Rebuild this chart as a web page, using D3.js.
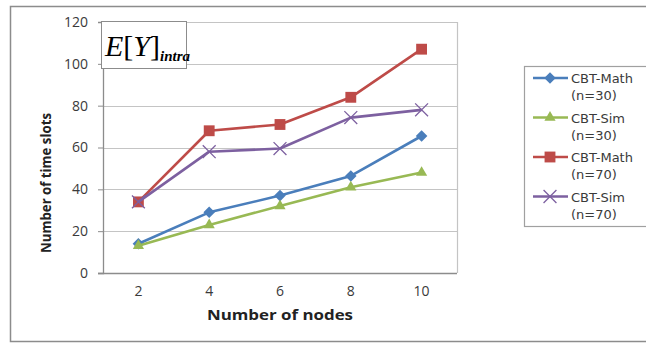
<!DOCTYPE html>
<html>
<head>
<meta charset="utf-8">
<script src="https://cdn.jsdelivr.net/npm/d3@7"></script>
<style>
  body { margin: 0; background: #fff; }
  text { font-family: "Open Sans", "DejaVu Sans", sans-serif; }
</style>
</head>
<body>
<script>
// values
var nodes = ["2", "4", "6", "8", "10"];
var mathN30 = [14, 29, 37, 46.4, 65.5];
var simN30 = [13, 23, 32, 41, 48];
var mathN70 = [34, 68, 71, 84, 107];
var simN70 = [34, 58, 59.5, 74.3, 78];
var yTicks = [0, 20, 40, 60, 80, 100, 120];

var series = [
  {name: "CBT-Math", sub: "(n=30)", values: mathN30, color: "#4a7ebb", shape: "diamond"},
  {name: "CBT-Sim", sub: "(n=30)", values: simN30, color: "#98b954", shape: "triangle"},
  {name: "CBT-Math", sub: "(n=70)", values: mathN70, color: "#be4b48", shape: "square"},
  {name: "CBT-Sim", sub: "(n=70)", values: simN70, color: "#7d60a0", shape: "cross"}
];

var svg = d3.select("body").append("svg")
  .attr("width", 646)
  .attr("height", 343);

// outer frame
svg.append("rect")
  .attr("x", 10.5).attr("y", 6.5)
  .attr("width", 660).attr("height", 335)
  .attr("fill", "none").attr("stroke", "#8c8c8c").attr("stroke-width", 1.5);

var plot = {left: 103, top: 22, right: 457, bottom: 273};

var x = d3.scaleBand()
  .domain(nodes)
  .range([plot.left, plot.right]);

var y = d3.scaleLinear()
  .domain([0, 120])
  .range([plot.bottom, plot.top]);

// grid
svg.append("g").selectAll("line")
  .data(yTicks.filter(d => d > 0))
  .enter().append("line")
  .attr("x1", plot.left).attr("x2", plot.right)
  .attr("y1", d => Math.round(y(d)) + 0.5).attr("y2", d => Math.round(y(d)) + 0.5)
  .attr("stroke", "#c4c4c4").attr("stroke-width", 1.2);

// right border of plot
svg.append("line")
  .attr("x1", plot.right + 0.5).attr("x2", plot.right + 0.5)
  .attr("y1", Math.round(y(120))).attr("y2", plot.bottom)
  .attr("stroke", "#c4c4c4").attr("stroke-width", 1.2);

// y axis
var yAxis = svg.append("g")
  .attr("transform", "translate(" + plot.left + ",0)")
  .call(d3.axisLeft(y).tickValues(yTicks).tickSize(5).tickPadding(10));
yAxis.select(".domain").attr("stroke", "#8c8c8c").attr("stroke-width", 1.3);
yAxis.selectAll(".tick line").attr("stroke", "#8c8c8c");
yAxis.selectAll("text").attr("font-size", 14).attr("fill", "#3a3a3a");

// x axis
var xAxis = svg.append("g")
  .attr("transform", "translate(0," + plot.bottom + ")")
  .call(d3.axisBottom(x).tickSize(0).tickPadding(13).tickSizeOuter(0));
xAxis.select(".domain").attr("stroke", "#8c8c8c").attr("stroke-width", 1.3)
  .attr("d", "M" + (plot.left - 5) + ",0.5H" + plot.right);
xAxis.selectAll("text").attr("font-size", 14).attr("fill", "#3a3a3a");

// axis titles
svg.append("text")
  .attr("x", 280).attr("y", 320)
  .attr("text-anchor", "middle")
  .attr("font-size", 15).attr("font-weight", "bold").attr("fill", "#222")
  .attr("textLength", 146).attr("lengthAdjust", "spacingAndGlyphs")
  .text("Number of nodes");

svg.append("text")
  .attr("transform", "translate(51,183) rotate(-90)")
  .attr("text-anchor", "middle")
  .attr("font-size", 15).attr("font-weight", "bold").attr("fill", "#222")
  .attr("textLength", 140).attr("lengthAdjust", "spacingAndGlyphs")
  .text("Number of time slots");

// lines and markers
var line = d3.line()
  .x((d, i) => x(nodes[i]) + x.bandwidth() / 2)
  .y(d => y(d));

function marker(g, shape, color) {
  if (shape === "diamond") {
    g.append("path").attr("d", d3.symbol(d3.symbolDiamond2, 85)()).attr("fill", color);
  } else if (shape === "triangle") {
    g.append("path").attr("d", d3.symbol(d3.symbolTriangle2, 90)()).attr("fill", color);
  } else if (shape === "square") {
    g.append("path").attr("d", d3.symbol(d3.symbolSquare2, 150)()).attr("fill", color);
  } else {
    g.append("path").attr("d", d3.symbol(d3.symbolX, 110)())
      .attr("fill", "none").attr("stroke", color).attr("stroke-width", 1.3);
  }
}

series.forEach(function(s) {
  svg.append("path")
    .attr("d", line(s.values))
    .attr("fill", "none")
    .attr("stroke", s.color)
    .attr("stroke-width", 2.6)
    .attr("stroke-linejoin", "round");

  s.values.forEach(function(v, i) {
    var g = svg.append("g")
      .attr("transform", "translate(" + (x(nodes[i]) + x.bandwidth() / 2) + "," + y(v) + ")");
    marker(g, s.shape, s.color);
  });
});

// E[Y]_intra label box
var lab = svg.append("g");
lab.append("rect")
  .attr("x", 101.5).attr("y", 21.5).attr("width", 85).attr("height", 47)
  .attr("fill", "#fff").attr("stroke", "#8c8c8c").attr("stroke-width", 1);
var t = lab.append("text")
  .attr("x", 105).attr("y", 56)
  .style("font-family", "'Liberation Serif', 'DejaVu Serif', serif")
  .attr("font-size", 30).attr("fill", "#000");
t.append("tspan").attr("font-style", "italic").text("E");
t.append("tspan").text("[");
t.append("tspan").attr("font-style", "italic").text("Y");
t.append("tspan").text("]");
t.append("tspan").attr("font-style", "italic").attr("font-weight", "bold")
  .attr("font-size", 15).attr("dy", 5).text("intra");

// legend
var legend = svg.append("g");
legend.append("rect")
  .attr("x", 524.5).attr("y", 66.5).attr("width", 130).attr("height", 160)
  .attr("fill", "#fff").attr("stroke", "#a0a0a0").attr("stroke-width", 1.2);

series.forEach(function(s, i) {
  var row = legend.append("g")
    .attr("transform", "translate(0," + (78 + i * 39.5) + ")");
  row.append("line")
    .attr("x1", 533).attr("x2", 568)
    .attr("stroke", s.color).attr("stroke-width", 2.6);
  var m = row.append("g").attr("transform", "translate(550,0)");
  marker(m, s.shape, s.color);
  row.append("text")
    .attr("x", 571).attr("y", 5)
    .style("font-family", "'DejaVu Sans', sans-serif")
    .attr("font-size", 13).attr("fill", "#3a3a3a")
    .text(s.name);
  row.append("text")
    .attr("x", 571).attr("y", 22)
    .style("font-family", "'DejaVu Sans', sans-serif")
    .attr("font-size", 13).attr("fill", "#3a3a3a")
    .text(s.sub);
});
</script>
</body>
</html>
